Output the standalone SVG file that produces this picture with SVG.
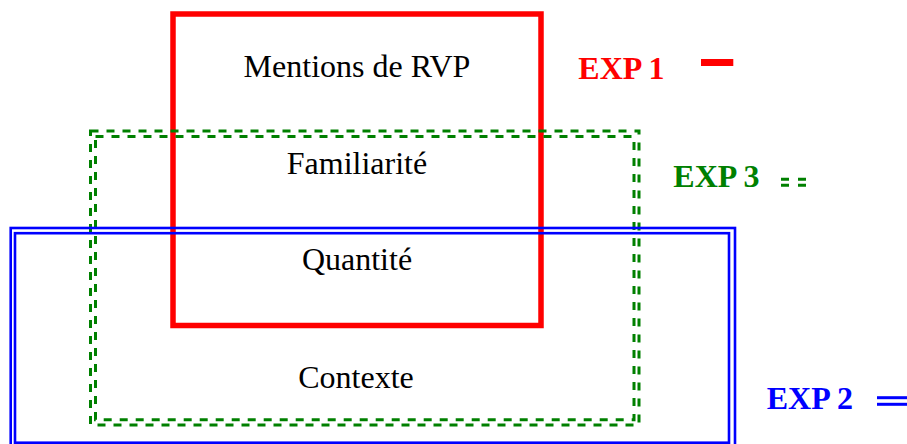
<svg xmlns="http://www.w3.org/2000/svg" width="907" height="444" viewBox="0 0 907 444">
<style>
  .lbl { font-family: "Liberation Serif", Tinos, "Times New Roman", serif; font-size: 32px; fill: #000; text-anchor: middle; }
  .leg { font-family: "Liberation Serif", Tinos, "Times New Roman", serif; font-size: 32px; font-weight: bold; }
  .red { fill: none; stroke: #ff0000; stroke-width: 5.5; }
  .grn { fill: none; stroke: #008000; stroke-width: 3; stroke-dasharray: 8 8; }
  .blu { fill: none; stroke: #0000ff; stroke-width: 2.6; }
</style>
<rect width="907" height="444" fill="#fff"/>
<g id="exp1">
  <rect class="red" x="173" y="14" width="368" height="311.5"/>
</g>
<g id="exp3">
  <rect class="grn" x="90.5" y="131" width="548.5" height="294"/>
  <rect class="grn" x="95.5" y="136.5" width="538.5" height="283.2"/>
</g>
<g id="exp2">
  <rect class="blu" x="10.7" y="228" width="724.3" height="222"/>
  <rect class="blu" x="15" y="233.2" width="714" height="209.5"/>
</g>
<g id="labels">
  <text class="lbl" x="357" y="77.3">Mentions de RVP</text>
  <text class="lbl" x="357" y="174">Familiarité</text>
  <text class="lbl" x="357" y="269.5">Quantité</text>
  <text class="lbl" x="356" y="388.3">Contexte</text>
</g>
<g id="legend">
  <text class="leg" x="578.3" y="78.7" fill="#ff0000">EXP 1</text>
  <line x1="701" y1="62.5" x2="733.3" y2="62.5" stroke="#ff0000" stroke-width="7"/>
  <text class="leg" x="673.3" y="186.7" fill="#008000">EXP 3</text>
  <line x1="781" y1="179.3" x2="806" y2="179.3" stroke="#008000" stroke-width="3" stroke-dasharray="8 9"/>
  <line x1="781" y1="185.2" x2="806" y2="185.2" stroke="#008000" stroke-width="3" stroke-dasharray="8 9"/>
  <text class="leg" x="766.7" y="409" fill="#0000ff">EXP 2</text>
  <line x1="877" y1="397.7" x2="907" y2="397.7" stroke="#0000ff" stroke-width="3"/>
  <line x1="877" y1="404.3" x2="907" y2="404.3" stroke="#0000ff" stroke-width="3"/>
</g>
</svg>
